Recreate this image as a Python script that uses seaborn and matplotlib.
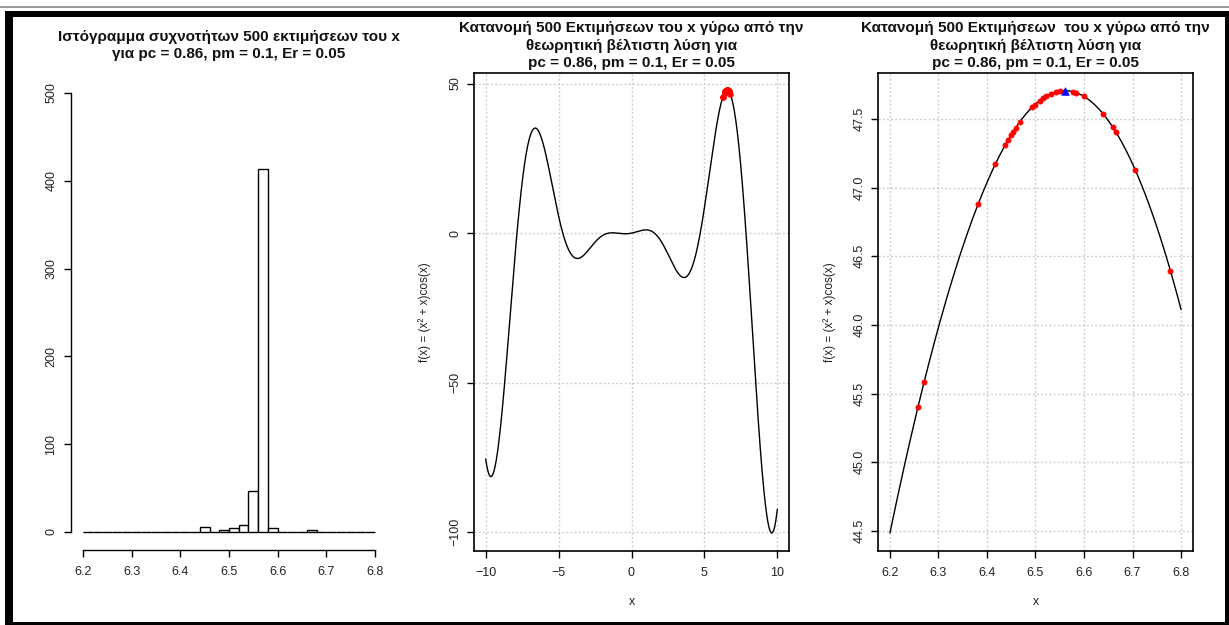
import numpy as np
import pandas as pd
import matplotlib
matplotlib.use("Agg")
import matplotlib.pyplot as plt
from matplotlib.patches import Rectangle
import seaborn as sns

sns.set_style("white")
plt.rcParams['font.family'] = ['Liberation Sans', 'DejaVu Sans']

# ---------------- data ----------------
titles = [
    "Ιστόγραμμα συχνοτήτων 500 εκτιμήσεων του x\nγια pc = 0.86, pm = 0.1, Er = 0.05",
    "Κατανομή 500 Εκτιμήσεων του x γύρω από την\nθεωρητική βέλτιστη λύση για\npc = 0.86, pm = 0.1, Er = 0.05",
    "Κατανομή 500 Εκτιμήσεων  του x γύρω από την\nθεωρητική βέλτιστη λύση για\npc = 0.86, pm = 0.1, Er = 0.05",
]
ylabel_f = "f(x) = (x² + x)cos(x)"

# histogram: 30 bins of width 0.02 between 6.2 and 6.8
hist_lo, hist_hi, hist_nbins = 6.2, 6.8, 30
hist_counts = [0, 0, 0, 0, 0, 0, 0, 0, 0, 0,
               0, 0, 6, 0, 2, 4, 8, 47, 414, 5,
               0, 0, 0, 2, 0, 0, 0, 0, 0, 0]

# distinct estimates of x (red points)
est_x = [6.258, 6.2706, 6.382, 6.4175, 6.438, 6.443, 6.450, 6.454, 6.459,
         6.4675, 6.4936, 6.498, 6.5086, 6.515, 6.522, 6.5327, 6.543, 6.550,
         6.577, 6.584, 6.599, 6.639, 6.6595, 6.666, 6.706, 6.778]
# theoretical optimum (blue triangle)
opt_x = [6.560]

def f(x):
    x = np.asarray(x, dtype=float)
    return (x ** 2 + x) * np.cos(x)

# --------------- figure ---------------
W, H = 1229, 625
fig = plt.figure(figsize=(W / 100, H / 100), dpi=100)

def px_axes(x0, x1, y0, y1):
    return fig.add_axes([x0 / W, 1 - y1 / H, (x1 - x0) / W, (y1 - y0) / H])

ax1 = px_axes(71.3, 386.7, 75.5, 549.5)
ax2 = px_axes(474, 789, 72.7, 550.7)
ax3 = px_axes(878.3, 1192.7, 73, 550.7)

TICK_FS = 9
TITLE_FS = 11
grid_kw = dict(color='#cfcfcf', linestyle=(0, (1.5, 1.5)), linewidth=1.0)

def style_ticks(ax, ypad=4):
    ax.tick_params(axis='both', which='major', direction='out', length=5,
                   width=1, colors='black', labelsize=TICK_FS, left=True, bottom=True)
    ax.tick_params(axis='x', pad=7)
    ax.tick_params(axis='y', pad=ypad)
    for lab in ax.get_yticklabels():
        lab.set_rotation(90)
        lab.set_va('center')
        lab.set_ha('right')
    for lab in ax.get_xticklabels() + ax.get_yticklabels():
        lab.set_color('#222222')

def set_title_px(ax, text, center_px):
    bb = ax.get_position()
    top_px = (1 - bb.y1) * H
    hpx = bb.height * H
    ax.set_title(text, fontsize=TITLE_FS, fontweight='bold', y=1 + (top_px - center_px) / hpx,
                 va='center', pad=0, linespacing=1.3, color='#111111')

# ----- panel 1: histogram -----
edges = np.linspace(hist_lo, hist_hi, hist_nbins + 1)
centers = (edges[:-1] + edges[1:]) / 2
hdf = pd.DataFrame({"x": centers, "w": hist_counts})
sns.histplot(data=hdf, x="x", weights="w", bins=hist_nbins, binrange=(hist_lo, hist_hi),
             ax=ax1, color='white', edgecolor='black', linewidth=1.0, alpha=1)
ax1.set_xlim(6.176, 6.824)
ax1.set_ylim(-20, 520)
ax1.set_xticks(np.round(np.arange(6.2, 6.81, 0.1), 1))
ax1.set_yticks([0, 100, 200, 300, 400, 500])
ax1.set_xlabel("")
ax1.set_ylabel("")
for s in ['top', 'right']:
    ax1.spines[s].set_visible(False)
ax1.spines['left'].set_bounds(0, 500)
ax1.spines['bottom'].set_bounds(6.2, 6.8)
for s in ['left', 'bottom']:
    ax1.spines[s].set_color('black')
    ax1.spines[s].set_linewidth(1.0)
style_ticks(ax1, ypad=5)
set_title_px(ax1, titles[0], 45.5)

# ----- panel 2: full curve -----
xs_full = np.linspace(-10, 10, 801)
df_full = pd.DataFrame({"x": xs_full, "y": f(xs_full)})
sns.lineplot(data=df_full, x="x", y="y", ax=ax2, color='black', linewidth=1.0, sort=False)
pts = pd.DataFrame({"x": est_x, "y": f(est_x)})
sns.scatterplot(data=pts, x="x", y="y", ax=ax2, color='red', s=16, edgecolor='red',
                linewidth=0.6, zorder=5)
yr = df_full.y.max() - df_full.y.min()
ax2.set_xlim(-10.8, 10.8)
ax2.set_ylim(df_full.y.min() - 0.04 * yr, df_full.y.max() + 0.04 * yr)
ax2.set_xticks([-10, -5, 0, 5, 10])
ax2.set_yticks([-100, -50, 0, 50])
ax2.grid(True, **grid_kw)
ax2.set_axisbelow(True)
ax2.set_xlabel("x", fontsize=9, labelpad=12, color='#222222')
ax2.set_ylabel(ylabel_f, fontsize=8.5, labelpad=13, color='#222222')
for s in ax2.spines.values():
    s.set_visible(True)
    s.set_color('black')
    s.set_linewidth(1.2)
style_ticks(ax2)
set_title_px(ax2, titles[1], 45.5)

# ----- panel 3: zoom around optimum -----
xs_zoom = np.linspace(6.2, 6.8, 301)
df_zoom = pd.DataFrame({"x": xs_zoom, "y": f(xs_zoom)})
sns.lineplot(data=df_zoom, x="x", y="y", ax=ax3, color='black', linewidth=1.0, sort=False)
sns.scatterplot(data=pts, x="x", y="y", ax=ax3, color='red', s=14, edgecolor='red',
                linewidth=0.5, zorder=5)
opt = pd.DataFrame({"x": opt_x, "y": f(opt_x)})
sns.scatterplot(data=opt, x="x", y="y", ax=ax3, color='blue', marker='^', s=30,
                edgecolor='blue', linewidth=0.5, zorder=6)
yr3 = df_zoom.y.max() - df_zoom.y.min()
ax3.set_xlim(6.176, 6.824)
ax3.set_ylim(df_zoom.y.min() - 0.04 * yr3, df_zoom.y.max() + 0.04 * yr3)
ax3.set_xticks(np.round(np.arange(6.2, 6.81, 0.1), 1))
ax3.set_yticks([44.5, 45.0, 45.5, 46.0, 46.5, 47.0, 47.5])
ax3.set_yticklabels(["44.5", "45.0", "45.5", "46.0", "46.5", "47.0", "47.5"])
ax3.grid(True, **grid_kw)
ax3.set_axisbelow(True)
ax3.set_xlabel("x", fontsize=9, labelpad=12, color='#222222')
ax3.set_ylabel(ylabel_f, fontsize=8.5, labelpad=13, color='#222222')
for s in ax3.spines.values():
    s.set_visible(True)
    s.set_color('black')
    s.set_linewidth(1.2)
style_ticks(ax3)
set_title_px(ax3, titles[2], 45.5)

# ----- outer frame (screenshot border) -----
def px_rect(x0, y0, x1, y1, color):
    fig.patches.append(Rectangle((x0 / W, 1 - y1 / H), (x1 - x0) / W, (y1 - y0) / H,
                                 transform=fig.transFigure, facecolor=color,
                                 edgecolor='none', zorder=10))

px_rect(0, 6, W, 7.5, '#9a9a9a')        # thin grey line at top
px_rect(5, 11.5, W, 16.5, 'black')      # top band
px_rect(5, 11.5, 12.5, H, 'black')      # left band
px_rect(1225, 11.5, W, H, 'black')      # right band
px_rect(5, 621.5, W, H, 'black')        # bottom band

fig.savefig("out.png", dpi=100)
